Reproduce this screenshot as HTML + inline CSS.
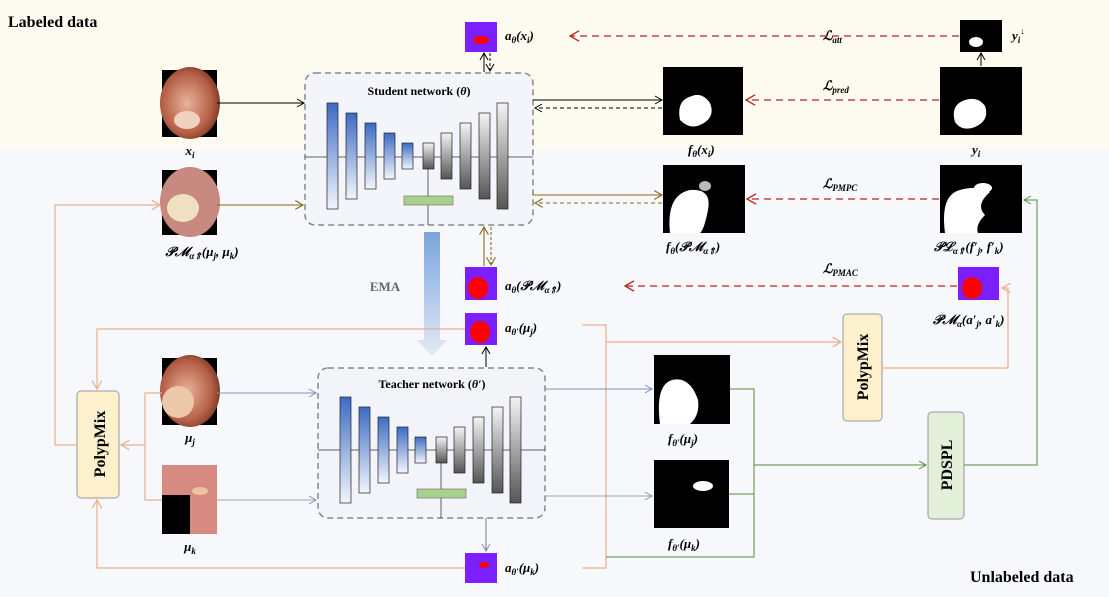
<!DOCTYPE html>
<html><head><meta charset="utf-8"><style>
html,body{margin:0;padding:0;background:#f6f8fb}
svg{display:block;font-family:"Liberation Serif",serif}
.b{font-weight:bold}
</style></head><body>
<svg width="1109" height="597" viewBox="0 0 1109 597" xmlns="http://www.w3.org/2000/svg">
<defs>
<linearGradient id="bl" x1="0" y1="0" x2="0" y2="1"><stop offset="0" stop-color="#3b6cc4"/><stop offset="1" stop-color="#f2f5fb"/></linearGradient>
<linearGradient id="gr" x1="0" y1="0" x2="0" y2="1"><stop offset="0" stop-color="#f4f4f4"/><stop offset="1" stop-color="#555"/></linearGradient>
<linearGradient id="ema" x1="0" y1="0" x2="0" y2="1"><stop offset="0" stop-color="#7aa3dc"/><stop offset="1" stop-color="#e2ebf7"/></linearGradient>
<radialGradient id="en" cx="0.45" cy="0.5" r="0.6"><stop offset="0" stop-color="#e8b39a"/><stop offset="0.7" stop-color="#b45e45"/><stop offset="1" stop-color="#6a3020"/></radialGradient>
<marker id="ak" markerWidth="10" markerHeight="10" refX="8" refY="5" orient="auto"><path d="M1,1 L8,5 L1,9" fill="none" stroke="#000" stroke-width="1"/></marker>
<marker id="ar" markerWidth="10" markerHeight="10" refX="8" refY="5" orient="auto"><path d="M1,1 L8,5 L1,9" fill="none" stroke="#b22" stroke-width="1"/></marker>
<marker id="ao" markerWidth="10" markerHeight="10" refX="8" refY="5" orient="auto"><path d="M1,1 L8,5 L1,9" fill="none" stroke="#eab08e" stroke-width="1"/></marker>
<marker id="ab" markerWidth="10" markerHeight="10" refX="8" refY="5" orient="auto"><path d="M1,1 L8,5 L1,9" fill="none" stroke="#8a6a1a" stroke-width="1"/></marker>
<marker id="ag" markerWidth="10" markerHeight="10" refX="8" refY="5" orient="auto"><path d="M1,1 L8,5 L1,9" fill="none" stroke="#5a8a3a" stroke-width="1"/></marker>
<marker id="as" markerWidth="10" markerHeight="10" refX="8" refY="5" orient="auto"><path d="M1,1 L8,5 L1,9" fill="none" stroke="#7f93b3" stroke-width="1"/></marker>
</defs>
<rect x="0" y="0" width="1109" height="150" fill="#fdfbf0"/>
<rect x="0" y="150" width="1109" height="447" fill="#f6f8fb"/>
<text x="8" y="27" class="b" font-size="16">Labeled data</text>
<text x="970" y="582" class="b" font-size="16">Unlabeled data</text>

<rect x="305" y="73" width="228" height="152" rx="10" fill="#f3f5fb" stroke="#888" stroke-width="1.5" stroke-dasharray="6,4"/>
<text x="419" y="95" class="b" font-size="12" text-anchor="middle">Student network (<tspan font-style="italic">θ</tspan>)</text>
<g stroke="#222" stroke-width="0.7">
<line x1="305" y1="157" x2="533" y2="157" stroke="#333"/>
<rect x="327" y="103" width="11" height="106" fill="url(#bl)"/>
<rect x="346" y="113" width="11" height="86" fill="url(#bl)"/>
<rect x="365" y="123" width="11" height="66" fill="url(#bl)"/>
<rect x="384" y="133" width="11" height="46" fill="url(#bl)"/>
<rect x="402" y="143" width="11" height="26" fill="url(#bl)"/>
<rect x="423" y="143" width="11" height="26" fill="url(#gr)"/>
<rect x="441" y="133" width="11" height="46" fill="url(#gr)"/>
<rect x="460" y="123" width="11" height="66" fill="url(#gr)"/>
<rect x="479" y="113" width="11" height="86" fill="url(#gr)"/>
<rect x="497" y="103" width="11" height="106" fill="url(#gr)"/>
<line x1="428" y1="169" x2="428" y2="225"/>
<rect x="404" y="196" width="49" height="9" fill="#a9d18e" stroke="#777"/>
</g>
<rect x="318" y="368" width="227" height="150" rx="10" fill="#f3f3fa" stroke="#888" stroke-width="1.5" stroke-dasharray="6,4"/>
<text x="432" y="388" class="b" font-size="12" text-anchor="middle">Teacher network (<tspan font-style="italic">θ′</tspan>)</text>
<g stroke="#222" stroke-width="0.7">
<line x1="318" y1="450" x2="545" y2="450" stroke="#333"/>
<rect x="340" y="397" width="11" height="106" fill="url(#bl)"/>
<rect x="359" y="407" width="11" height="86" fill="url(#bl)"/>
<rect x="378" y="417" width="11" height="66" fill="url(#bl)"/>
<rect x="397" y="427" width="11" height="46" fill="url(#bl)"/>
<rect x="415" y="437" width="11" height="26" fill="url(#bl)"/>
<rect x="436" y="437" width="11" height="26" fill="url(#gr)"/>
<rect x="454" y="427" width="11" height="46" fill="url(#gr)"/>
<rect x="473" y="417" width="11" height="66" fill="url(#gr)"/>
<rect x="492" y="407" width="11" height="86" fill="url(#gr)"/>
<rect x="510" y="397" width="11" height="106" fill="url(#gr)"/>
<line x1="441" y1="463" x2="441" y2="518"/>
<rect x="417" y="489" width="49" height="9" fill="#a9d18e" stroke="#777"/>
</g>
<path d="M424,232 L440,232 L440,340 L447,340 L432,356 L417,340 L424,340 Z" fill="url(#ema)"/>
<text x="385" y="291" class="b" font-size="13" fill="#666" text-anchor="middle">EMA</text>

<g>
<rect x="162" y="70" width="55" height="67" fill="#000"/><ellipse cx="190" cy="103" rx="30" ry="36" fill="url(#en)"/><ellipse cx="187" cy="120" rx="13" ry="9" fill="#f0d0c0"/>
<rect x="162" y="170" width="55" height="65" fill="#000"/><ellipse cx="190" cy="202" rx="30" ry="35" fill="#c88a80"/><ellipse cx="183" cy="208" rx="16" ry="14" fill="#efe0c0"/>
<rect x="162" y="358" width="55" height="67" fill="#000"/><ellipse cx="190" cy="391" rx="30" ry="36" fill="url(#en)"/><ellipse cx="178" cy="402" rx="16" ry="16" fill="#edc7aa"/>
<rect x="162" y="465" width="55" height="69" fill="#000"/><path d="M162,465 H217 V534 H190 V495 H162Z" fill="#d68a80"/><ellipse cx="200" cy="491" rx="8" ry="4" fill="#f0c0a0"/>
</g>
<g class="b" font-size="13" font-style="italic" text-anchor="middle">
<text x="190" y="155">x<tspan font-size="9" dy="3">i</tspan></text>
<text x="202" y="256">𝒫ℳ<tspan font-size="9" dy="3">α⇑</tspan><tspan dy="-3">(μ</tspan><tspan font-size="9" dy="3">j</tspan><tspan dy="-3">, μ</tspan><tspan font-size="9" dy="3">k</tspan><tspan dy="-3">)</tspan></text>
<text x="190" y="442">μ<tspan font-size="9" dy="3">j</tspan></text>
<text x="190" y="551">μ<tspan font-size="9" dy="3">k</tspan></text>
</g>

<rect x="663" y="67" width="80" height="68" fill="#000"/><path d="M680,120 Q676,100 692,96 Q702,92 710,103 Q716,118 700,125 Q690,130 680,120Z" fill="#fff"/>
<rect x="940" y="67" width="82" height="68" fill="#000"/><path d="M955,122 Q950,105 965,100 Q978,96 985,106 Q990,120 975,127 Q962,132 955,122Z" fill="#fff"/>
<rect x="960" y="20" width="42" height="32" fill="#000"/><ellipse cx="976" cy="42" rx="7" ry="5" fill="#fff"/>
<rect x="663" y="165" width="82" height="68" fill="#000"/><path d="M670,233 Q666,195 690,190 Q712,188 708,210 Q704,230 700,233Z" fill="#fff"/><ellipse cx="705" cy="186" rx="6" ry="5" fill="#bbb"/>
<rect x="940" y="165" width="82" height="68" fill="#000"/><path d="M945,233 Q940,195 960,190 Q978,185 990,192 Q975,205 985,215 Q975,225 978,233Z" fill="#fff"/><ellipse cx="983" cy="188" rx="9" ry="5" fill="#fff"/>
<rect x="654" y="355" width="76" height="69" fill="#000"/><path d="M660,424 Q655,385 672,380 Q690,376 698,400 Q700,415 690,424Z" fill="#fff"/>
<rect x="654" y="460" width="75" height="68" fill="#000"/><ellipse cx="703" cy="486" rx="10" ry="5" fill="#fff"/>
<g fill="#7b1fff">
<rect x="465" y="22" width="32" height="30"/><rect x="465" y="267" width="32" height="33"/><rect x="465" y="313" width="32" height="32"/><rect x="465" y="553" width="32" height="30"/><rect x="958" y="267" width="41" height="33"/>
</g>
<g fill="#f00">
<ellipse cx="481" cy="40" rx="8" ry="4"/><ellipse cx="478" cy="288" rx="10" ry="11"/><ellipse cx="480" cy="332" rx="10" ry="11"/><ellipse cx="484" cy="565" rx="5" ry="3"/><ellipse cx="972" cy="288" rx="10" ry="11"/>
</g>

<g class="b" font-size="13" font-style="italic">
<text x="505" y="40">a<tspan font-size="9" dy="3">θ</tspan><tspan dy="-3">(x</tspan><tspan font-size="9" dy="3">i</tspan><tspan dy="-3">)</tspan></text>
<text x="1012" y="40">y<tspan font-size="9" dy="3">i</tspan><tspan font-size="9" dy="-9">↓</tspan></text>
<text x="688" y="154">f<tspan font-size="9" dy="3">θ</tspan><tspan dy="-3">(x</tspan><tspan font-size="9" dy="3">i</tspan><tspan dy="-3">)</tspan></text>
<text x="972" y="154">y<tspan font-size="9" dy="3">i</tspan></text>
<text x="666" y="251">f<tspan font-size="9" dy="3">θ</tspan><tspan dy="-3">(𝒫ℳ</tspan><tspan font-size="9" dy="3">α⇑</tspan><tspan dy="-3">)</tspan></text>
<text x="934" y="251">𝒫ℒ<tspan font-size="9" dy="3">α⇑</tspan><tspan dy="-3">(f′</tspan><tspan font-size="9" dy="3">j</tspan><tspan dy="-3">, f′</tspan><tspan font-size="9" dy="3">k</tspan><tspan dy="-3">)</tspan></text>
<text x="505" y="290">a<tspan font-size="9" dy="3">θ</tspan><tspan dy="-3">(𝒫ℳ</tspan><tspan font-size="9" dy="3">α⇑</tspan><tspan dy="-3">)</tspan></text>
<text x="505" y="332">a<tspan font-size="9" dy="3">θ′</tspan><tspan dy="-3">(μ</tspan><tspan font-size="9" dy="3">j</tspan><tspan dy="-3">)</tspan></text>
<text x="505" y="572">a<tspan font-size="9" dy="3">θ′</tspan><tspan dy="-3">(μ</tspan><tspan font-size="9" dy="3">k</tspan><tspan dy="-3">)</tspan></text>
<text x="933" y="324">𝒫ℳ<tspan font-size="9" dy="3">α</tspan><tspan dy="-3">(a′</tspan><tspan font-size="9" dy="3">j</tspan><tspan dy="-3">, a′</tspan><tspan font-size="9" dy="3">k</tspan><tspan dy="-3">)</tspan></text>
<text x="668" y="443">f<tspan font-size="9" dy="3">θ′</tspan><tspan dy="-3">(μ</tspan><tspan font-size="9" dy="3">j</tspan><tspan dy="-3">)</tspan></text>
<text x="668" y="548">f<tspan font-size="9" dy="3">θ′</tspan><tspan dy="-3">(μ</tspan><tspan font-size="9" dy="3">k</tspan><tspan dy="-3">)</tspan></text>
<text x="823" y="40">ℒ<tspan font-size="9" dy="3">att</tspan></text>
<text x="823" y="90">ℒ<tspan font-size="9" dy="3">pred</tspan></text>
<text x="823" y="188">ℒ<tspan font-size="9" dy="3">PMPC</tspan></text>
<text x="823" y="273">ℒ<tspan font-size="9" dy="3">PMAC</tspan></text>
</g>

<rect x="77" y="391" width="42" height="107" rx="4" fill="#fdf0cc" stroke="#999"/>
<text transform="translate(105,444) rotate(-90)" class="b" font-size="16" text-anchor="middle">PolypMix</text>
<rect x="843" y="314" width="39" height="107" rx="4" fill="#fdf0cc" stroke="#999"/>
<text transform="translate(868,367) rotate(-90)" class="b" font-size="16" text-anchor="middle">PolypMix</text>
<rect x="928" y="412" width="36" height="107" rx="4" fill="#e2efd9" stroke="#999"/>
<text transform="translate(952,465) rotate(-90)" class="b" font-size="16" text-anchor="middle">PDSPL</text>

<g fill="none" stroke="#000" stroke-width="1">
<line x1="217" y1="103" x2="304" y2="103" marker-end="url(#ak)"/>
<line x1="533" y1="100" x2="662" y2="100" marker-end="url(#ak)"/>
<line x1="662" y1="108" x2="535" y2="108" stroke-dasharray="4,3" marker-end="url(#ak)"/>
<line x1="484" y1="72" x2="484" y2="53" marker-end="url(#ak)"/>
<line x1="490" y1="53" x2="490" y2="71" stroke-dasharray="3,2" marker-end="url(#ak)"/>
<line x1="981" y1="66" x2="981" y2="53" marker-end="url(#ak)"/>
</g>
<g fill="none" stroke="#b22" stroke-width="1.3" stroke-dasharray="7,5">
<line x1="959" y1="36" x2="570" y2="36" marker-end="url(#ar)"/>
<line x1="939" y1="100" x2="746" y2="100" marker-end="url(#ar)"/>
<line x1="939" y1="199" x2="747" y2="199" marker-end="url(#ar)"/>
<line x1="957" y1="286" x2="625" y2="286" marker-end="url(#ar)"/>
</g>
<g fill="none" stroke="#8a6a1a" stroke-width="1.1">
<line x1="217" y1="205" x2="303" y2="205" marker-end="url(#ab)"/>
<line x1="533" y1="195" x2="662" y2="195" marker-end="url(#ab)"/>
<line x1="662" y1="203" x2="535" y2="203" stroke-dasharray="4,3" marker-end="url(#ab)"/>
<line x1="484" y1="266" x2="484" y2="227" marker-end="url(#ab)"/>
<line x1="491" y1="227" x2="491" y2="265" stroke-dasharray="3,2" marker-end="url(#ab)"/>
</g>
<g fill="none" stroke="#eab08e" stroke-width="1.2">
<polyline points="77,445 55,445 55,205 160,205" marker-end="url(#ao)"/>
<polyline points="465,329 97,329 97,389" marker-end="url(#ao)"/>
<polyline points="465,568 97,568 97,500" marker-end="url(#ao)"/>
<polyline points="162,393 145,393 145,500 162,500"/>
<line x1="145" y1="445" x2="121" y2="445" marker-end="url(#ao)"/>
<polyline points="582,325 606,325 606,568 582,568"/>
<line x1="606" y1="342" x2="841" y2="342" marker-end="url(#ao)"/>
<polyline points="882,368 1008,368 1008,288 1002,288" marker-end="url(#ao)"/>
</g>
<g fill="none" stroke="#7f93b3" stroke-width="1">
<line x1="217" y1="393" x2="316" y2="393" marker-end="url(#as)"/>
<line x1="217" y1="500" x2="316" y2="500" marker-end="url(#as)" stroke="#a0a6b0"/>
<line x1="545" y1="389" x2="652" y2="389" marker-end="url(#as)"/>
<line x1="545" y1="496" x2="652" y2="496" marker-end="url(#as)" stroke="#a0a6b0"/>
<line x1="486" y1="518" x2="486" y2="551" marker-end="url(#as)" stroke="#777"/>
<line x1="486" y1="367" x2="486" y2="347" marker-end="url(#ak)" stroke="#000"/>
</g>
<g fill="none" stroke="#5a8a3a" stroke-width="1">
<polyline points="730,389 754,389 754,557 606,557"/>
<line x1="729" y1="494" x2="754" y2="494"/>
<line x1="754" y1="465" x2="926" y2="465" marker-end="url(#ag)"/>
<polyline points="964,465 1037,465 1037,200 1024,200" marker-end="url(#ag)"/>
</g>
</svg>
</body></html>
